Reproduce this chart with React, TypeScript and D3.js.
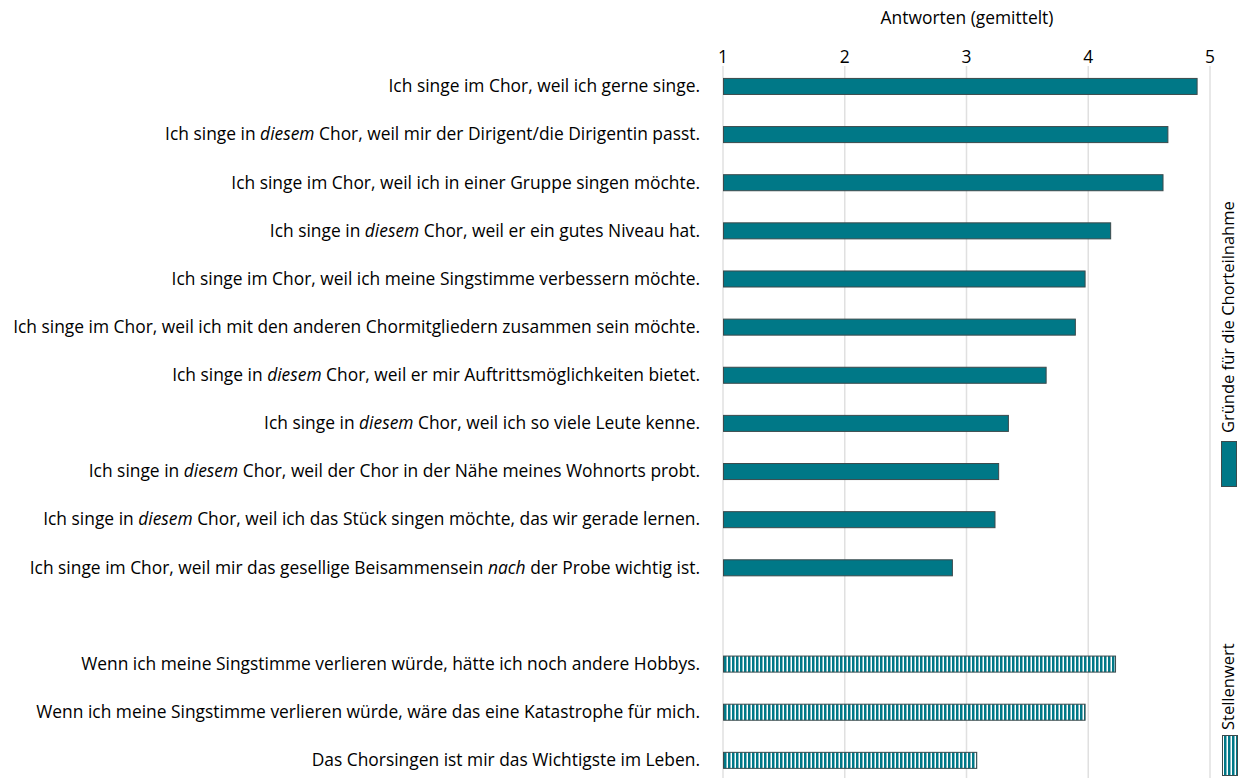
import React from "react";
import * as d3 from "d3";

const reasons: string[][] = [
  ["Ich singe im Chor, weil ich gerne singe."],
  ["Ich singe in ", "*diesem", " Chor, weil mir der Dirigent/die Dirigentin passt."],
  ["Ich singe im Chor, weil ich in einer Gruppe singen möchte."],
  ["Ich singe in ", "*diesem", " Chor, weil er ein gutes Niveau hat."],
  ["Ich singe im Chor, weil ich meine Singstimme verbessern möchte."],
  ["Ich singe im Chor, weil ich mit den anderen Chormitgliedern zusammen sein möchte."],
  ["Ich singe in ", "*diesem", " Chor, weil er mir Auftrittsmöglichkeiten bietet."],
  ["Ich singe in ", "*diesem", " Chor, weil ich so viele Leute kenne."],
  ["Ich singe in ", "*diesem", " Chor, weil der Chor in der Nähe meines Wohnorts probt."],
  ["Ich singe in ", "*diesem", " Chor, weil ich das Stück singen möchte, das wir gerade lernen."],
  ["Ich singe im Chor, weil mir das gesellige Beisammensein ", "*nach", " der Probe wichtig ist."],
];
const reasonValues = [4.89, 4.65, 4.61, 4.18, 3.97, 3.89, 3.65, 3.34, 3.26, 3.23, 2.88];

const importance: string[][] = [
  ["Wenn ich meine Singstimme verlieren würde, hätte ich noch andere Hobbys."],
  ["Wenn ich meine Singstimme verlieren würde, wäre das eine Katastrophe für mich."],
  ["Das Chorsingen ist mir das Wichtigste im Leben."],
];
const importanceValues = [4.22, 3.97, 3.08];

const ticks = [1, 2, 3, 4, 5];
const axisTitle = "Antworten (gemittelt)";
const legend1 = "Gründe für die Chorteilnahme";
const legend2 = "Stellenwert";

const W = 1244;
const H = 778;
const TEAL = "#007887";
const FONT = "'Open Sans', sans-serif";
const FS = 17.4;

type Row = { key: string; parts: string[]; value: number; hatched: boolean };

export default function App() {
  const rows: Row[] = [];
  reasons.forEach((p, i) => rows.push({ key: "r" + i, parts: p, value: reasonValues[i], hatched: false }));
  rows.push({ key: "gap", parts: [], value: NaN, hatched: false });
  importance.forEach((p, i) => rows.push({ key: "s" + i, parts: p, value: importanceValues[i], hatched: true }));

  const x = d3.scaleLinear().domain([1, 5]).range([723, 1210]);
  const y = d3
    .scaleBand<string>()
    .domain(rows.map((r) => r.key))
    .range([62.4, 784.4])
    .paddingInner(0.667)
    .paddingOuter(0.333);
  const bh = y.bandwidth();

  return (
    <svg width={W} height={H} style={{ position: "absolute", left: 0, top: 0, background: "#fff" }} fontFamily={FONT}>
      <defs>
        <pattern id="stripes" patternUnits="userSpaceOnUse" width={4} height={8} x={0}>
          <rect width={4} height={8} fill="#ffffff" />
          <rect x={0} width={2} height={8} fill={TEAL} />
          <rect x={2} width={1} height={8} fill="#7fb9c2" />
        </pattern>
      </defs>
      <text x={967} y={24} textAnchor="middle" fontSize={FS} fill="#000">{axisTitle}</text>
      {ticks.map((t) => (
        <g key={t}>
          <line x1={x(t)} x2={x(t)} y1={66} y2={H} stroke="#e0e0e0" strokeWidth={1.5} />
          <text x={x(t)} y={63} textAnchor="middle" fontSize={FS} fill="#000">{t}</text>
        </g>
      ))}
      {rows.map((r) =>
        r.parts.length === 0 ? null : (
          <g key={r.key}>
            <text x={700} y={(y(r.key) as number) + bh / 2 + 5.8} textAnchor="end" fontSize={FS} fill="#000">
              {r.parts.map((p, j) =>
                p.startsWith("*") ? (
                  <tspan key={j} fontStyle="italic">{p.slice(1)}</tspan>
                ) : (
                  <tspan key={j} style={{ whiteSpace: "pre" }}>{p}</tspan>
                )
              )}
            </text>
            <rect
              x={x(1) + 0.5}
              y={y(r.key) as number}
              width={x(r.value) - x(1)}
              height={bh}
              fill={r.hatched ? "url(#stripes)" : TEAL}
              stroke="#3c4a4c"
              strokeWidth={1}
            />
          </g>
        )
      )}
      <text transform={`translate(1234,${433}) rotate(-90)`} fontSize={16.5} fill="#000">{legend1}</text>
      <rect x={1221.5} y={441.5} width={15} height={45} fill={TEAL} stroke="#3c4a4c" strokeWidth={1} />
      <text transform={`translate(1234,${730}) rotate(-90)`} fontSize={16.5} fill="#000">{legend2}</text>
      <rect x={1222.5} y={735.5} width={15} height={40} fill="url(#stripes)" stroke="#3c4a4c" strokeWidth={1} />
    </svg>
  );
}
